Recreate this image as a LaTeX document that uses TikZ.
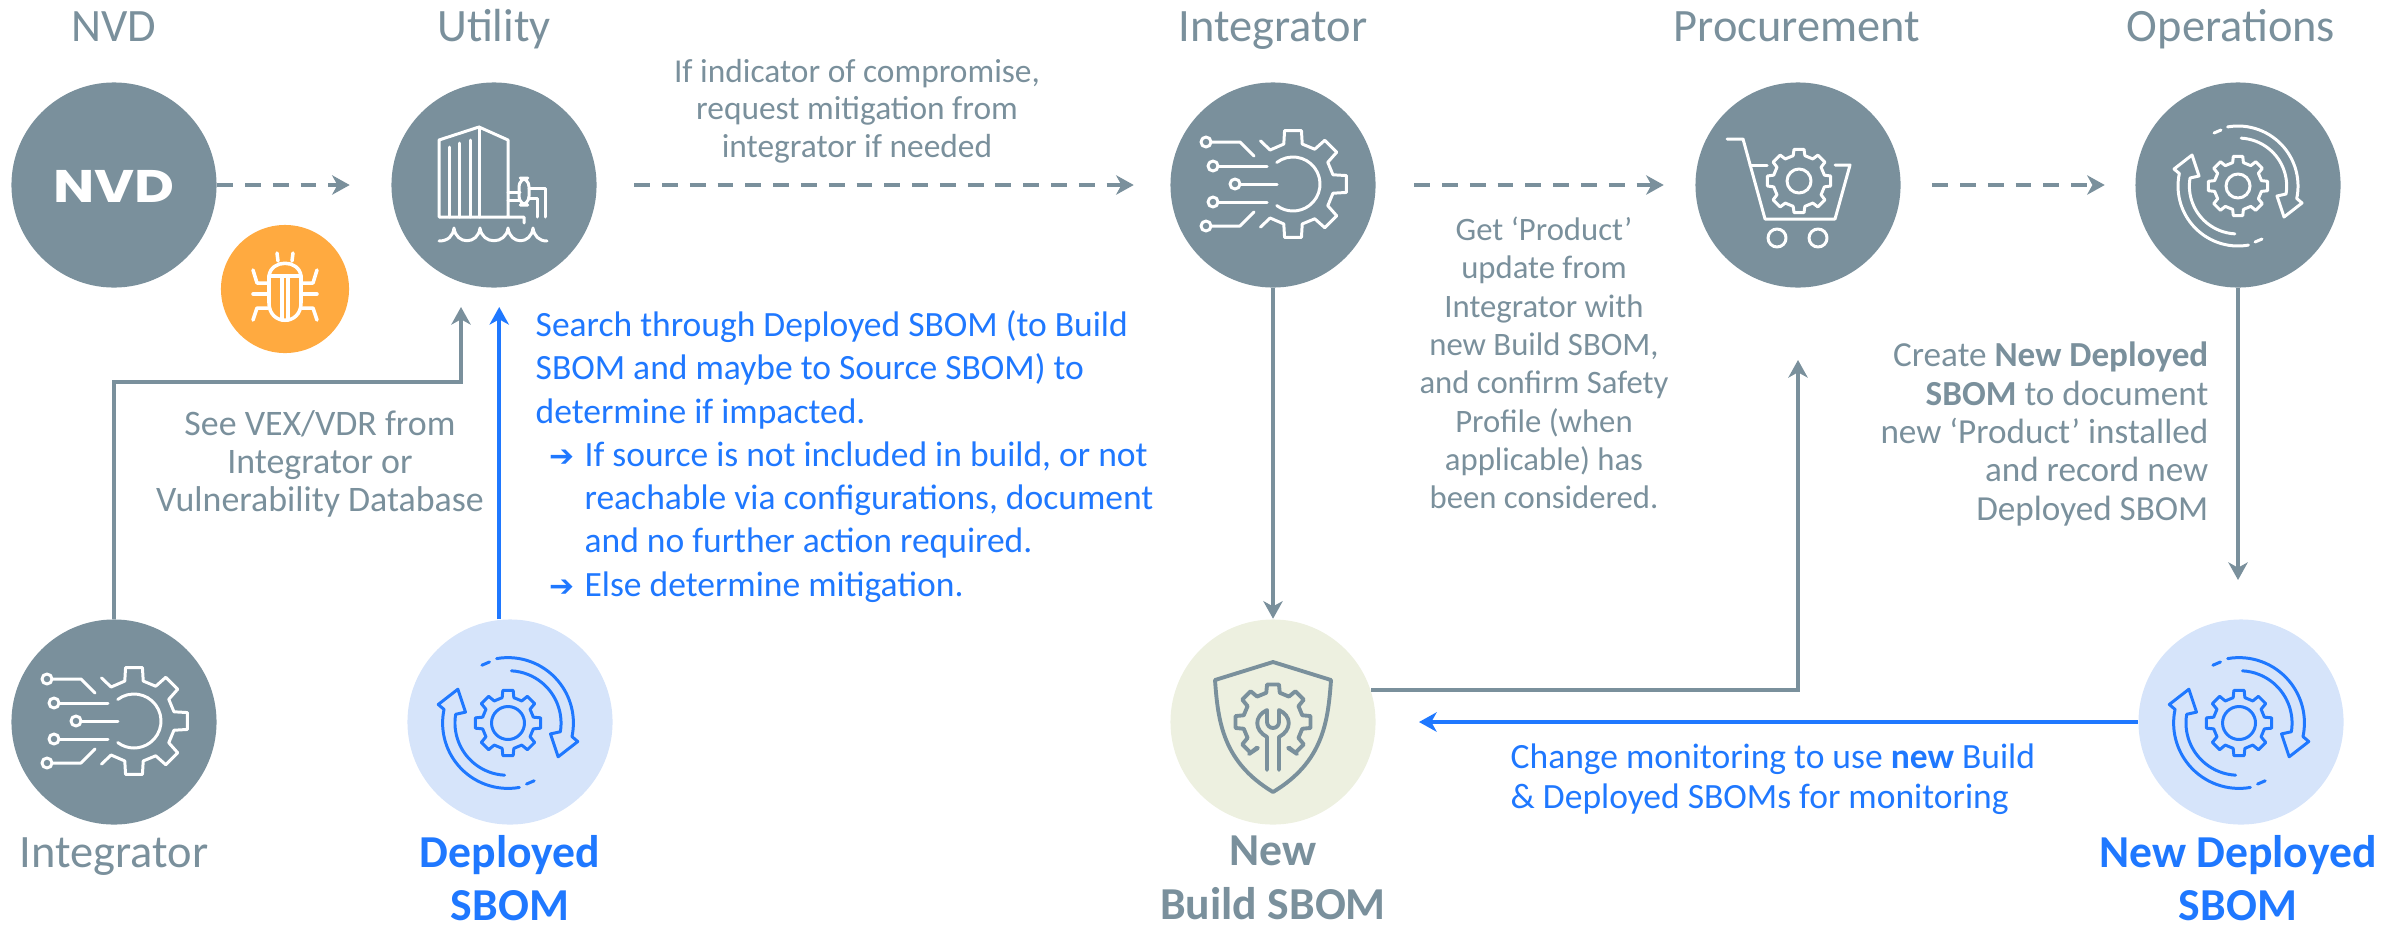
\documentclass[tikz,border=0pt]{standalone}
\usepackage{fontspec}
\setmainfont{Carlito}
\newfontfamily\arrowfont{DejaVu Sans}
\newfontfamily\logofont{Poppins}
\usetikzlibrary{arrows.meta}
\definecolor{slate}{HTML}{7A909C}
\definecolor{sbomblue}{HTML}{1F78FF}
\definecolor{paleblue}{HTML}{D6E4FA}
\definecolor{paleolive}{HTML}{EDF0E0}
\definecolor{bugorange}{HTML}{FFAA40}
\tikzset{
    disc/.style={circle,minimum size=2.05cm,inner sep=0pt,fill=slate},
    bluedisc/.style={disc,fill=paleblue},
    olivedisc/.style={disc,fill=paleolive},
    head/.style={text=slate,font=\fontsize{13.2}{16}\selectfont,anchor=base,inner sep=0pt},
    greybold/.style={text=slate,font=\fontsize{13}{15.3}\selectfont\bfseries,align=center,inner sep=0pt},
    bluebold/.style={text=sbomblue,font=\fontsize{13}{15.3}\selectfont\bfseries,align=center,inner sep=0pt},
    note/.style={text=slate,font=\fontsize{10}{10.9}\selectfont,align=center,inner sep=0pt},
    bluenote/.style={text=sbomblue,font=\fontsize{10.1}{12.3}\selectfont,align=left,inner sep=0pt},
    link/.style={slate,line width=1pt,-{Stealth[length=5pt,width=5.5pt,inset=1.5pt]}},
    bluelink/.style={link,sbomblue,line width=1.2pt},
    dashlink/.style={link,line width=1.15pt,dash pattern=on 4.5pt off 3.4pt},
    icon/.style={line width=.85pt,line cap=round,line join=round},
    pics/gearwheel/.style n args={3}{code={
        \draw[icon] (-13:#2) \foreach \a in {0,45,...,315}{ -- (\a-13:#2) -- (\a-9:#1) -- (\a+9:#1) -- (\a+13:#2)} -- cycle;
        \draw[icon] (0,0) circle[radius=#3];
    }},
    pics/refreshicon/.style n args={3}{code={
        \pic {gearwheel={#1}{#2}{#3}};
        \foreach \r in {0,180}{
            \begin{scope}[rotate=\r]
            \draw[icon] (-100:60) arc[start angle=-100,end angle=12,radius=60] -- (64,17) -- (46,31) -- (39,10) -- (48,8) arc[start angle=9.5,end angle=-87,radius=48];
            \draw[icon] (-24,-53) -- (-17,-56);
            \end{scope}
        }
    }},
    pics/circuiticon/.style={code={
        \draw[icon] (-67,-43) circle[radius=5];
        \draw[icon] (-62,-43) -- (-33,-43) -- (-19,-29);
        \draw[icon] (-60,-19) circle[radius=5];
        \draw[icon] (-55,-19) -- (-6,-19);
        \draw[icon] (-38,-1) circle[radius=5];
        \draw[icon] (-33,-1) -- (4,-1);
        \draw[icon] (-60,17) circle[radius=5];
        \draw[icon] (-55,17) -- (-6,17);
        \draw[icon] (-67,41) circle[radius=5];
        \draw[icon] (-62,41) -- (-33,41) -- (-19,27);
        \begin{scope}[shift={(20,-1)}]
        \draw[icon] (-127:27) arc[start angle=-127,end angle=127,radius=27];
        \draw[icon] (-127:54) -- (-124:41) \foreach \a in {-90,-45,0,45,90}{ -- (\a-13:41) -- (\a-9:54) -- (\a+9:54) -- (\a+13:41)} -- (124:41) -- (127:54);
        \end{scope}
    }},
    pics/buildingicon/.style={code={
        \draw[icon] (30,38) -- (30,32) -- (-55,32) -- (-55,-45) -- (-15,-58) -- (14,-45) -- (14,32);
        \draw[icon] (-15,-58) -- (-15,32);
        \draw[icon] (-45,32) -- (-45,-38);
        \draw[icon] (-35,32) -- (-35,-42);
        \draw[icon] (-24,32) -- (-24,-45);
        \draw[icon] (14,7) -- (26,7);
        \draw[icon] (14,15) -- (26,15);
        \draw[icon,rounded corners=2.5pt] (25,-7) rectangle (35,20);
        \draw[icon] (35,3) -- (51,3) -- (51,32);
        \draw[icon] (35,13) -- (43,13) -- (43,32);
        \draw[icon] (-55,56) .. controls (-46,56) and (-41,51) .. (-40,43) .. controls (-38,60) and (-16,60) .. (-14,43) .. controls (-12,60) and (12,60) .. (14,43) .. controls (16,60) and (37,60) .. (39,43) .. controls (40,51) and (45,56) .. (53,56);
    }},
    pics/carticon/.style={code={
        \draw[icon] (-71,-46) -- (-55,-46) -- (-33,34) -- (37,34) -- (52,-20) -- (37,-20);
        \draw[icon] (-48,-20) -- (-31,-20);
        \draw[icon] (-21,53) circle[radius=9];
        \draw[icon] (20,53) circle[radius=9];
        \pic at (1,-4) {gearwheel={32}{26}{12}};
    }},
    pics/shieldicon/.style={code={
        \draw[icon,line width=1.1pt] (0,-60) -- (58,-42) .. controls (55,0) and (50,40) .. (0,70) .. controls (-50,40) and (-55,0) .. (-58,-42) -- cycle;
        \draw[icon,line width=1.1pt] (15,26) -- (24,32) \foreach \a in {45,0,-45,-90,-135,-180,-225}{ -- (\a+13:30) -- (\a+9:38) -- (\a-9:38) -- (\a-13:30)} -- (-24,32) -- (-15,26);
        \draw[icon,line width=1.1pt] (-6,48) -- (-6,15) .. controls (-19,8) and (-19,-6) .. (-6,-12) -- (-6,0) arc[start angle=180,end angle=0,radius=6] -- (6,-12) .. controls (19,-6) and (19,8) .. (6,15) -- (6,48);
    }},
    pics/bugicon/.style={code={
        \draw[icon,line width=1pt] (-16,-13) .. controls (-14,-30) and (14,-30) .. (16,-13) -- (16,14) .. controls (16,37) and (-16,37) .. (-16,14) -- cycle;
        \draw[icon,line width=1pt] (-16,-13) -- (16,-13);
        \draw[icon,line width=1pt] (-3,-13) -- (-3,31);
        \draw[icon,line width=1pt] (3,-13) -- (3,31);
        \foreach \s in {1,-1}{
            \begin{scope}[xscale=\s]
            \draw[icon,line width=1pt] (-8,-36) -- (-7,-28);
            \draw[icon,line width=1pt] (-32,-19) -- (-28,-6) -- (-17,-6);
            \draw[icon,line width=1pt] (-32,5) -- (-17,5);
            \draw[icon,line width=1pt] (-32,31) -- (-28,19) -- (-17,19);
            \end{scope}
        }
    }},
}
\begin{document}
\begin{tikzpicture}[x=0.01cm,y=-0.01cm]
    \useasboundingbox (0,0) rectangle (2404,927);
    \node[disc] (NVD) at (114,185) {};
    \node[disc] (Utility) at (494,185) {};
    \node[disc] (Integrator) at (1273,185) {};
    \node[disc] (Procurement) at (1798,185) {};
    \node[disc] (Operations) at (2238,185) {};
    \node[disc] (Supplier) at (114,722) {};
    \node[bluedisc] (Deployed) at (510,722) {};
    \node[olivedisc] (Build) at (1273,722) {};
    \node[bluedisc] (NewDeployed) at (2241,722) {};
    \node[circle,minimum size=1.28cm,inner sep=0pt,fill=bugorange] (Bug) at (285,289) {};

    \node[text=white,inner sep=0pt,xscale=1.2,font=\logofont\bfseries\fontsize{13}{13}\selectfont] (NVDlogo) at (114,186) {NVD};
    \pic[color=white] at (494,185) {buildingicon};
    \pic[color=white] at (1273,185) {circuiticon};
    \pic[color=white] at (1798,185) {carticon};
    \pic[color=white] at (2238,186) {refreshicon={30}{24}{12}};
    \pic[color=white] at (114,722) {circuiticon};
    \pic[color=sbomblue,scale=1.09] at (508,723) {refreshicon={33}{26}{16.5}};
    \pic[color=slate] at (1273,722) {shieldicon};
    \pic[color=sbomblue,scale=1.09] at (2239,723) {refreshicon={33}{26}{16.5}};
    \pic[color=white] at (285,289) {bugicon};

    \node[head] (tNVD) at (114,41) {NVD};
    \node[head] (tUtility) at (494,41) {Utility};
    \node[head] (tIntegrator) at (1273,41) {Integrator};
    \node[head] (tProcurement) at (1797,41) {Procurement};
    \node[head] (tOperations) at (2231,41) {Operations};
    \node[head] (tSupplier) at (114,867) {Integrator};
    \node[bluebold] (tDeployed) at (510,878) {Deployed\\SBOM};
    \node[greybold] (tBuild) at (1273,878) {New\\Build SBOM};
    \node[bluebold] (tNewDeployed) at (2238,878) {New Deployed\\SBOM};

    \node[note,font=\fontsize{9.5}{10.6}\selectfont] (tMitigation) at (857,111) {If indicator of compromise,\\request mitigation from\\integrator if needed};
    \node[note,font=\fontsize{9.3}{10.9}\selectfont] (tProduct) at (1544,363) {Get ‘Product’\\update from\\Integrator with\\new Build SBOM,\\and confirm Safety\\Profile (when\\applicable) has\\been considered.};
    \node[note,font=\fontsize{10.2}{10.9}\selectfont] (tVex) at (320,464) {See VEX/VDR from\\Integrator or\\Vulnerability Database};
    \node[note,align=right,anchor=east] (tCreate) at (2209,434) {Create \textbf{New Deployed}\\\textbf{SBOM} to document\\new ‘Product’ installed\\and record new\\Deployed SBOM};
    \node[bluenote,anchor=west,font=\fontsize{10.1}{11.3}\selectfont] (tMonitor) at (1510,779) {Change monitoring to use \textbf{new} Build\\\& Deployed SBOMs for monitoring};
    \node[bluenote,anchor=north west] (tSearch) at (535,310) {Search through Deployed SBOM (to Build\\SBOM and maybe to Source SBOM) to\\determine if impacted.\\
        \hspace*{4pt}\makebox[9.9pt][l]{\arrowfont\fontsize{8.5}{12}\selectfont ➔}If source is not included in build, or not\\
        \hspace*{13.9pt}reachable via configurations, document\\
        \hspace*{13.9pt}and no further action required.\\
        \hspace*{4pt}\makebox[9.9pt][l]{\arrowfont\fontsize{8.5}{12}\selectfont ➔}Else determine mitigation.};

    \coordinate (Ua) at (461,307);
    \coordinate (Ub) at (500,307);
    \coordinate (Sa) at (114,382);
    \coordinate (Pa) at (1798,360);
    \coordinate (Da) at (2239,580);
    \coordinate (Ba) at (1419,722);

    \draw[dashlink,shorten >=.41cm] (NVD) -- (Utility);
    \draw[dashlink,shorten <=.37cm,shorten >=.36cm] (Utility) -- (Integrator);
    \draw[dashlink,shorten <=.38cm,shorten >=.31cm] (Integrator) -- (Procurement);
    \draw[dashlink,shorten <=.31cm,shorten >=.30cm] (Procurement) -- (Operations);
    \draw[link] (Supplier) -- (Sa) -| (Ua);
    \draw[bluelink] (Deployed.96) -- (Deployed.96 |- Ub);
    \draw[link] (Integrator) -- (Build);
    \draw[link] (Build.18) -| (Pa);
    \draw[link] (Operations.south) -- (Operations.south |- Da);
    \draw[bluelink] (NewDeployed) -- (Ba);
\end{tikzpicture}
\end{document}
